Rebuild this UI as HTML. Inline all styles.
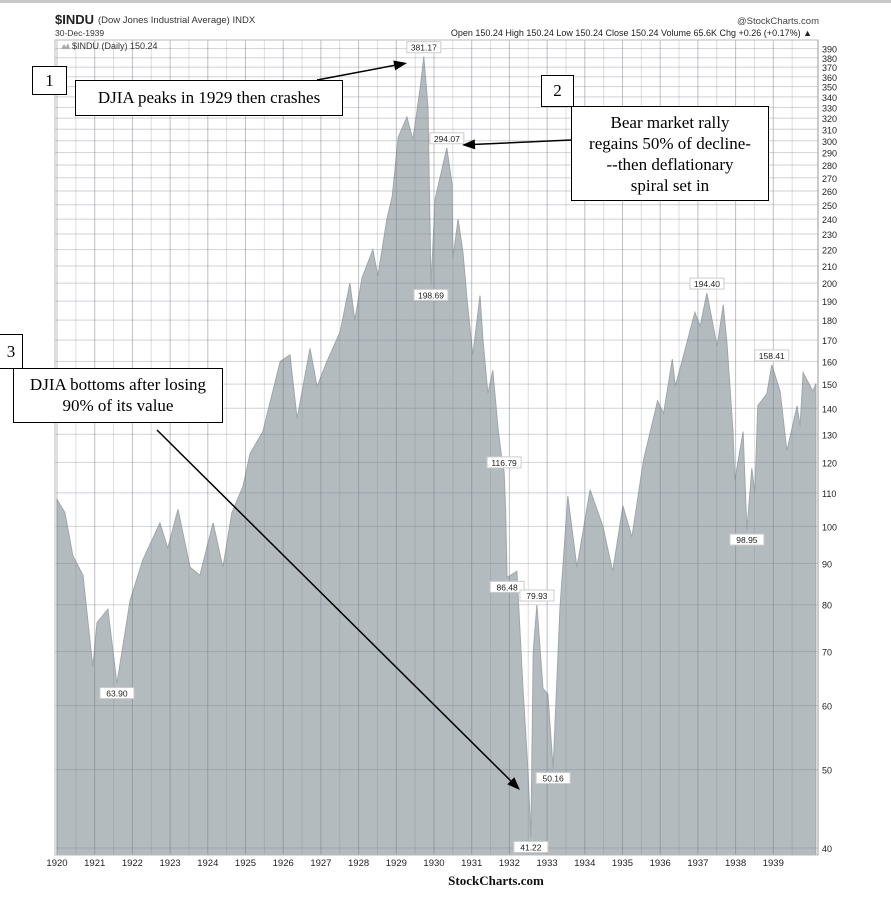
<!DOCTYPE html>
<html><head><meta charset="utf-8"><style>
body{margin:0;background:#fff;width:891px;height:900px;overflow:hidden;font-family:"Liberation Sans",sans-serif}
svg{position:absolute;left:0;top:0}
.box{position:absolute;border:1px solid #000;background:#fff;font-family:"Liberation Serif",serif;color:#000;text-align:center;box-sizing:border-box}
</style></head><body>
<svg id="c" width="891" height="900"></svg>
<div class="box" style="left:32px;top:66px;width:35px;height:29px;font-size:17px;line-height:27px">1</div>
<div class="box" style="left:75px;top:80px;width:268px;height:36px;font-size:17px;line-height:34px">DJIA peaks in 1929 then crashes</div>
<div class="box" style="left:541px;top:75px;width:33px;height:32px;font-size:17px;line-height:30px">2</div>
<div class="box" style="left:571px;top:106px;width:198px;height:95px;font-size:17px;line-height:21px;padding-top:5px">Bear market rally<br>regains 50% of decline-<br>--then deflationary<br>spiral set in</div>
<div class="box" style="left:-1px;top:334px;width:24px;height:35px;font-size:17px;line-height:33px">3</div>
<div class="box" style="left:13px;top:368px;width:210px;height:55px;font-size:17px;line-height:21px;padding-top:5px">DJIA bottoms after losing<br>90% of its value</div>
<script>
const years=[1920,1920.21,1920.42,1920.69,1920.95,1921.06,1921.35,1921.59,1921.94,1922.28,1922.73,1922.94,1923.21,1923.53,1923.79,1924.14,1924.40,1924.64,1924.93,1925.12,1925.46,1925.92,1926.18,1926.37,1926.71,1926.90,1927.16,1927.51,1927.77,1927.90,1928.09,1928.38,1928.51,1928.75,1928.89,1929.05,1929.28,1929.44,1929.63,1929.73,1929.84,1929.89,1929.92,1930.03,1930.34,1930.48,1930.50,1930.64,1930.77,1930.88,1931.03,1931.22,1931.30,1931.43,1931.56,1931.70,1931.80,1931.86,1931.90,1931.94,1932.20,1932.36,1932.49,1932.57,1932.63,1932.73,1932.89,1933.02,1933.16,1933.34,1933.55,1933.79,1934.14,1934.48,1934.74,1935.01,1935.25,1935.56,1935.93,1936.09,1936.32,1936.40,1936.71,1936.92,1937.06,1937.24,1937.51,1937.67,1937.77,1937.93,1937.98,1938.20,1938.30,1938.43,1938.51,1938.59,1938.83,1938.96,1939.18,1939.36,1939.63,1939.71,1939.79,1940.05,1940.13];
const closes=[108,104,92,87,67,76,79,63.9,81,91,101,94,105,89,87,101,89,104,112,123,131,160,163,136,166,149,160,174,200,180,203,220,204,240,256,303,321,301,348,381.17,330,240,198.69,254,294.07,265,215,240,218,190,163,193,170,146,156,132,121,116.79,105,86.48,88,63,50,41.22,70,79.93,63,62,50.16,79,109,89,111,100,88,106,97,121,143,138,161,149,169,184,177,194.40,167,188,169,131,114,131,98.95,118,110,141,146,158.41,147,124,141,133,155,147,150.24];
const yTicks=[390,380,370,360,350,340,330,320,310,300,290,280,270,260,250,240,230,220,210,200,190,180,170,160,150,140,130,120,110,100,90,80,70,60,50,40];
const xTickLabels=[1920,1921,1922,1923,1924,1925,1926,1927,1928,1929,1930,1931,1932,1933,1934,1935,1936,1937,1938,1939];
const markedValues=[381.17,294.07,198.69,116.79,86.48,79.93,63.90,50.16,41.22,194.40,158.41,98.95];
const markedBelow=[false,false,true,false,true,false,true,true,true,false,false,true];

const NS='http://www.w3.org/2000/svg',svg=document.getElementById('c');
const L=55,R=818,T=40,B=855;
const X=t=>57+(t-1920)*37.7;
const Y=v=>848-351*Math.log(v/40);
function el(tag,a,txt){const e=document.createElementNS(NS,tag);for(const k in a)e.setAttribute(k,a[k]);if(txt!=null)e.textContent=txt;svg.appendChild(e);return e;}
el('rect',{x:0,y:0,width:891,height:3,fill:'#c8c8c8'});
// fill
let d='M'+X(years[0])+','+B;
years.forEach((t,i)=>{d+=' L'+X(t).toFixed(1)+','+Y(closes[i]).toFixed(1);});
d+=' L'+Math.min(R,X(years[years.length-1]))+','+B+' Z';
const area=el('path',{d:d,fill:'#b4bbbf',stroke:'#a0a7ab','stroke-width':1});


// grid
yTicks.forEach(v=>{
  const g=el('line',{x1:L,x2:R,y1:Y(v),y2:Y(v),stroke:'rgba(120,125,140,0.35)','stroke-width':1});
  
  
  const t=el('text',{x:822,y:Y(v)+4,'font-size':9,fill:'#222'},v);
  
  
});
xTickLabels.forEach(yr=>{
  [0,0.5].forEach(o=>{
    const g=el('line',{x1:X(yr+o),x2:X(yr+o),y1:T,y2:B,stroke:o?'rgba(120,125,140,0.25)':'rgba(110,115,130,0.45)','stroke-width':1});
    
    
  });
  const t=el('text',{x:X(yr),y:866,'font-size':9.5,fill:'#222','text-anchor':'middle'},yr);
  
  
});
el('rect',{x:L,y:T,width:R-L,height:B-T,fill:'none',stroke:'#bbb','stroke-width':1});
el('line',{x1:R,x2:R,y1:T,y2:B,stroke:'#999'});
// marked values
markedValues.forEach((v,i)=>{
  const idx=closes.indexOf(v);const x=X(years[idx]),y=Y(v);const below=markedBelow[i];
  const ty=below?y+12:y-7;
  const g=el('g',{});
  
  
  const r=document.createElementNS(NS,'rect');
  [['x',x-17],['y',ty-8],['width',34],['height',11],['fill','#fff'],['stroke','#ccc']].forEach(a=>r.setAttribute(a[0],a[1]));g.appendChild(r);
  const tx=document.createElementNS(NS,'text');
  [['x',x],['y',ty+1],['font-size',8.5],['text-anchor','middle'],['fill','#222']].forEach(a=>tx.setAttribute(a[0],a[1]));tx.textContent=v.toFixed(2);g.appendChild(tx);
  svg.appendChild(g);
});
// header
el('text',{x:55,y:24,'font-size':13,'font-weight':'bold',fill:'#222'},'$INDU');
el('text',{x:98,y:23,'font-size':9.5,fill:'#333'},'(Dow Jones Industrial Average) INDX');
el('text',{x:55,y:36,'font-size':8.5,fill:'#333'},'30-Dec-1939');
el('text',{x:812,y:36,'font-size':9,fill:'#222','text-anchor':'end'},'Open 150.24 High 150.24 Low 150.24 Close 150.24 Volume 65.6K Chg +0.26 (+0.17%) ▲');
el('text',{x:819,y:24,'font-size':9.5,fill:'#444','text-anchor':'end'},'@StockCharts.com');
el('text',{x:72,y:49,'font-size':9,fill:'#333'},'$INDU (Daily) 150.24');
el('path',{d:'M61,49 L64,44 L66,47 L68,43 L70,49 Z',fill:'#aaa'});
el('text',{x:496,y:885,'font-size':13,'font-weight':'bold','font-family':'Liberation Serif',fill:'#111','text-anchor':'middle'},'StockCharts.com');
// arrows
function arrow(x1,y1,x2,y2,name){
  const a=Math.atan2(y2-y1,x2-x1),h=13,w=5;
  const g=el('g',{});
  
  
  const l=document.createElementNS(NS,'line');
  [['x1',x1],['y1',y1],['x2',x2-Math.cos(a)*h],['y2',y2-Math.sin(a)*h],['stroke','#000'],['stroke-width',1.5]].forEach(p=>l.setAttribute(p[0],p[1]));g.appendChild(l);
  const p=document.createElementNS(NS,'path');
  const bx=x2-Math.cos(a)*h,by=y2-Math.sin(a)*h;
  p.setAttribute('d',`M${x2},${y2} L${bx-Math.sin(a)*w},${by+Math.cos(a)*w} L${bx+Math.sin(a)*w},${by-Math.cos(a)*w} Z`);
  g.appendChild(p);svg.appendChild(g);
}
arrow(317,80,407,63,'arrow-peak');
arrow(571,140,462,145,'arrow-rally');
arrow(157,430,520,790,'arrow-bottom');
</script>
</body></html>
